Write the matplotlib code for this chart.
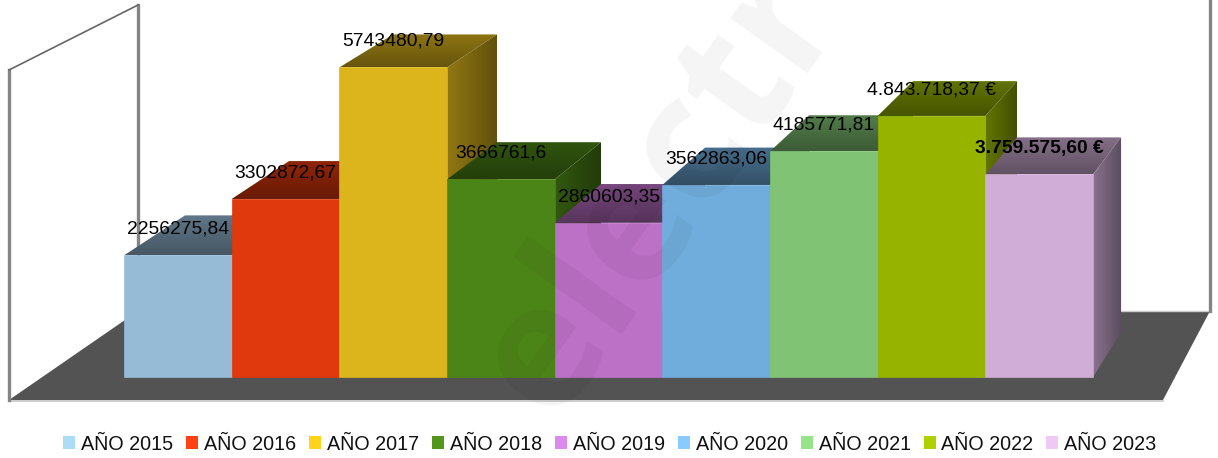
#!/usr/bin/env python3

"""
Pseudo-3D bar chart of yearly amounts, saved as out.png
"""

import numpy as np
import matplotlib
matplotlib.use("Agg")
import matplotlib.pyplot as plt
from matplotlib.patches import Patch, Polygon
from matplotlib.transforms import Affine2D
from matplotlib.colors import to_rgb

plt.rcParams["font.family"] = ["Liberation Sans", "DejaVu Sans"]

years = ["AÑO 2015", "AÑO 2016", "AÑO 2017", "AÑO 2018", "AÑO 2019",
         "AÑO 2020", "AÑO 2021", "AÑO 2022", "AÑO 2023"]
values = [2256275.84, 3302872.67, 5743480.79, 3666761.6, 2860603.35,
          3562863.06, 4185771.81, 4843718.37, 3759575.60]
value_labels = ["2256275,84", "3302872,67", "5743480,79", "3666761,6", "2860603,35",
                "3562863,06", "4185771,81", "4.843.718,37 €", "3.759.575,60 €"]
bold_label = [False] * 8 + [True]
front_colors = ["#95BBD6", "#DF390D", "#DCB51C", "#4C8517", "#BC70C6",
                "#70ADDC", "#81C374", "#96B300", "#D0ADD6"]
legend_colors = ["#ABDDF7", "#FF4213", "#FFD31A", "#54961B", "#DC8AEE",
                 "#8ACBFF", "#96E38A", "#B0D000", "#F0C8F5"]

W, H = 1218, 458
bar_px = 107.67    # pixels per category
left_px = 124      # left edge of first bar
base_px = 377      # baseline row
px_per_value = 5.39e-5

# perspective of the back face, scaled toward a vanishing point (data coords)
vp_x, vp_y = 16.16, 22.1e6
sx, sy = 0.966, 0.9626

fig = plt.figure(figsize=(W / 100, H / 100), dpi=100)
ax = fig.add_axes([0, 0, 1, 1])
ax.set_xlim(-0.5 - left_px / bar_px, -0.5 + (W - left_px) / bar_px)
ax.set_ylim(-(H - base_px) / px_per_value, base_px / px_per_value)
ax.axis("off")

# walls and floor live in image pixels, y going down
frame = Affine2D().scale(1, -1).translate(0, H)
wall = "#858585"
ax.add_patch(Polygon([(9, 400), (1163, 400), (1210, 311), (138, 311)], closed=True,
                     fc="#535353", ec="none", transform=frame, zorder=1))
ax.plot([9, 1163], [400.5, 400.5], c="#c4c4c4", lw=1.2, transform=frame, zorder=1)
ax.plot([9, 9], [70, 400], c=wall, lw=2.4, transform=frame, zorder=2)
ax.plot([138, 138], [5, 312], c=wall, lw=2.4, transform=frame, zorder=2)
ax.plot([9, 138], [70, 5], c="#666666", lw=1.2, transform=frame, zorder=2)
ax.plot([1209.5, 1209.5], [0, 311], c=wall, lw=2.4, transform=frame, zorder=2)
ax.plot([1120, 1209], [311, 311], c="#cccccc", lw=1, transform=frame, zorder=1.5)


def back(x, y):
    return vp_x + sx * (x - vp_x), vp_y + sy * (y - vp_y)


def shaded_face(points, c, start, stop, horizontal, zorder):
    # gradient clipped to the face outline
    rgb = np.array(to_rgb(c))
    ramp = np.linspace(start, stop, 64)[:, None] * rgb
    img = ramp[None, :, :] if horizontal else ramp[:, None, :]
    xs = [p[0] for p in points]
    ys = [p[1] for p in points]
    im = ax.imshow(img, extent=[min(xs), max(xs), min(ys), max(ys)], origin="lower",
                   aspect="auto", interpolation="bilinear", zorder=zorder)
    im.set_clip_path(Polygon(points, closed=True, transform=ax.transData))


xlim, ylim = ax.get_xlim(), ax.get_ylim()
for i, (v, c) in enumerate(zip(values, front_colors)):
    z = 10 + i
    l, r = i - 0.5, i + 0.5
    top = [(l, v), (r, v), back(r, v), back(l, v)]
    side = [(r, 0), back(r, 0), back(r, v), (r, v)]
    shaded_face(top, c, 0.47, 0.64, False, z)
    shaded_face(side, c, 0.66, 0.44, True, z + 0.1)
    ax.bar(i, v, width=1, color=c, edgecolor=c, linewidth=0.5, zorder=z + 0.2)
ax.set_xlim(xlim)
ax.set_ylim(ylim)

for i, (v, s, b) in enumerate(zip(values, value_labels, bold_label)):
    ax.annotate(s, xy=(i, v), xytext=(0, 26), textcoords="offset pixels", ha="center",
                va="center", fontsize=13.9, color="black", zorder=50,
                fontweight="bold" if b else "normal")

# faint watermark across the chart
ax.text(552, 422, "electr", transform=frame, rotation=54.5, rotation_mode="anchor",
        ha="left", va="baseline", fontsize=125, fontweight="bold", family="Open Sans",
        color="black", alpha=0.045, zorder=60, clip_on=True)

handles = [Patch(fc=c, ec="none") for c in legend_colors]
ax.legend(handles, years, loc="center", bbox_to_anchor=(610 / W, 1 - 444 / H),
          bbox_transform=fig.transFigure, ncol=9, frameon=False, fontsize=14.2,
          handlelength=0.61, handleheight=0.61, handletextpad=0.3, columnspacing=0.65,
          borderpad=0, borderaxespad=0, labelcolor="#111111")

fig.savefig("out.png", dpi=100)
plt.close(fig)
